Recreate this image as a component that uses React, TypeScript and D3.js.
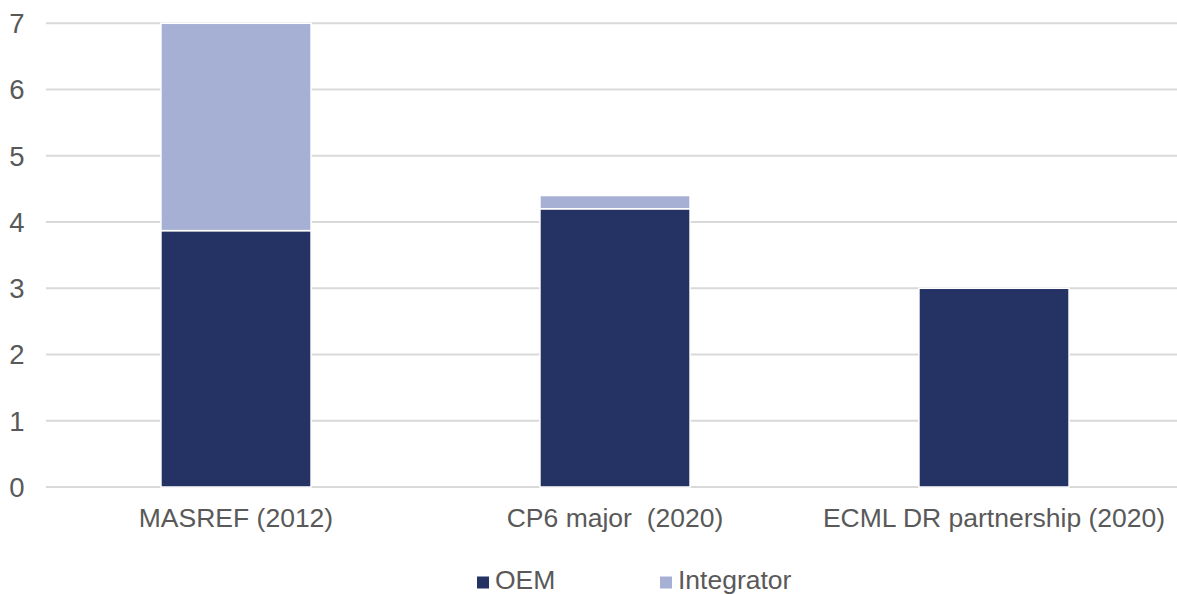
import React from "react";
import * as d3 from "d3";

const categories = ["MASREF (2012)", "CP6 major  (2020)", "ECML DR partnership (2020)"];
const oemValues = [3.87, 4.2, 3.0];
const integratorValues = [3.13, 0.2, 0];
const seriesNames = ["OEM", "Integrator"];
const yTicks = [0, 1, 2, 3, 4, 5, 6, 7];

const colors = ["#253264", "#A6B0D4"];
const W = 1177;
const H = 594;
const FONT = "'Liberation Sans', Arial, sans-serif";
const TEXT = "#595959";

export default function App() {
  const x = d3.scaleBand<string>().domain(categories).range([46.5, 1183.5]).padding(0);
  const y = d3.scaleLinear().domain([0, 7]).range([487, 23.3]);
  const barW = x.bandwidth() * 0.396;

  const rows = categories.map((c, i) => ({ cat: c, OEM: oemValues[i], Integrator: integratorValues[i] }));
  const stack = d3.stack<any>().keys(seriesNames)(rows);

  return (
    <svg width={W} height={H} style={{ position: "absolute", left: 0, top: 0, background: "#fff" }}>
      {yTicks.map((t) => (
        <g key={t}>
          <line x1={46} x2={W} y1={y(t)} y2={y(t)} stroke="#D9D9D9" strokeWidth={2} />
          <text x={24.5} y={y(t)} dy="0.36em" textAnchor="end" fontFamily={FONT} fontSize={27.5} fill={TEXT}>
            {t}
          </text>
        </g>
      ))}
      {stack.map((s, si) =>
        s.map((d, i) => {
          const h = y(d[0]) - y(d[1]);
          if (h <= 0) return null;
          const cx = (x(categories[i]) as number) + x.bandwidth() / 2;
          return (
            <rect
              key={si + "-" + i}
              x={cx - barW / 2}
              y={y(d[1])}
              width={barW}
              height={h}
              fill={colors[si]}
              stroke="#fff"
              strokeWidth={1.5}
            />
          );
        })
      )}
      {categories.map((c) => (
        <text
          key={c}
          x={(x(c) as number) + x.bandwidth() / 2}
          y={527.3}
          textAnchor="middle"
          fontFamily={FONT}
          fontSize={26.5}
          fill={TEXT}
          style={{ whiteSpace: "pre" }}
        >
          {c}
        </text>
      ))}
      {seriesNames.map((n, i) => {
        const lx = [477, 660][i];
        return (
          <g key={n}>
            <rect x={lx} y={576.5} width={12} height={12} fill={colors[i]} />
            <text x={lx + 18} y={589.3} fontFamily={FONT} fontSize={26.5} fill={TEXT}>
              {n}
            </text>
          </g>
        );
      })}
    </svg>
  );
}
